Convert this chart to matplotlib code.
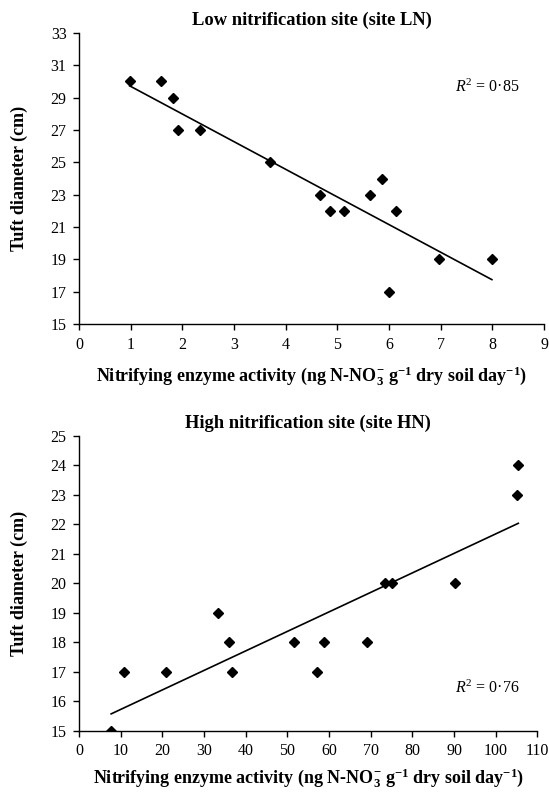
import numpy as np
import matplotlib
matplotlib.use("Agg")
import matplotlib.pyplot as plt

plt.rcParams['font.family'] = ['Liberation Serif', 'DejaVu Serif']
plt.rcParams['mathtext.fontset'] = 'custom'
plt.rcParams['mathtext.rm'] = 'Liberation Serif'
plt.rcParams['mathtext.it'] = 'Liberation Serif:italic'
plt.rcParams['mathtext.bf'] = 'Liberation Serif:bold'

# low nitrification site (LN)
ln_activity = [0.98, 1.59, 1.81, 1.92, 2.34, 3.70, 4.66, 4.85, 5.13, 5.63, 5.87, 6.00, 6.13, 6.96, 7.99]
ln_tuft = [30, 30, 29, 27, 27, 25, 23, 22, 22, 23, 24, 17, 22, 19, 19]
ln_r2 = "0·85"

# high nitrification site (HN)
hn_activity = [7.7, 10.9, 20.8, 33.3, 36.0, 36.7, 51.5, 57.2, 58.8, 69.1, 73.4, 75.0, 90.1, 105.0, 105.4]
hn_tuft = [15, 17, 17, 19, 18, 17, 18, 17, 18, 18, 20, 20, 20, 23, 24]
hn_r2 = "0·76"

xlab = r"Nitrifying enzyme activity (ng N-NO$_{\mathbf{3}}^{\mathbf{-}}$ g$^{\mathbf{-1}}$ dry soil day$^{\mathbf{-1}}$)"
ylab = "Tuft diameter (cm)"

fig = plt.figure(figsize=(5.49, 7.93), dpi=100)
ax1 = fig.add_axes([0.144, 0.5914, 0.847, 0.367])
ax2 = fig.add_axes([0.144, 0.0782, 0.835, 0.372])


def draw(ax, x, y, title, r2, xlim, xticks, ylim, yticks, r2pos, xpad):
    ax.plot(x, y, 'D', color='black', ms=4.9)
    k, b = np.polyfit(x, y, 1)
    xs = np.array([min(x), max(x)])
    ax.plot(xs, k * xs + b, color='black', lw=1.2)
    ax.set_xlim(*xlim)
    ax.set_ylim(*ylim)
    ax.set_xticks(xticks)
    ax.set_yticks(yticks)
    for s in ['top', 'right']:
        ax.spines[s].set_visible(False)
    ax.spines['left'].set_linewidth(1.0)
    ax.spines['bottom'].set_linewidth(1.0)
    ax.tick_params(direction='out', length=4, width=1.0, labelsize=11.5, pad=5)
    ax.set_title(title, fontsize=13.3, fontweight='bold', pad=6)
    ax.set_xlabel(xlab, fontsize=13, fontweight='bold', labelpad=xpad)
    ax.set_ylabel(ylab, fontsize=13, fontweight='bold', labelpad=16)
    ax.text(r2pos[0], r2pos[1], r"$\mathit{R}^{2}$ = " + r2, fontsize=11.5,
            transform=ax.transAxes, ha='left', va='center')


draw(ax1, ln_activity, ln_tuft, "Low nitrification site (site LN)", ln_r2,
     (0, 9), range(0, 10), (15, 33), range(15, 34, 2), (0.808, 0.813), 9)
draw(ax2, hn_activity, hn_tuft, "High nitrification site (site HN)", hn_r2,
     (0, 110), range(0, 111, 10), (15, 25), range(15, 26), (0.82, 0.146), 5)

fig.savefig("out.png", dpi=100)
